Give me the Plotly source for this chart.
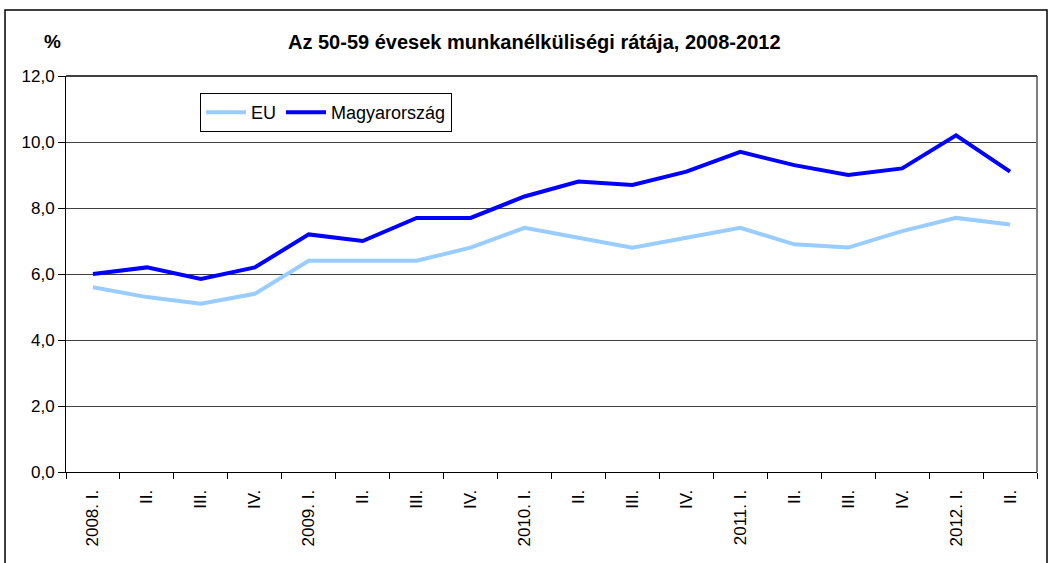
import plotly.graph_objects as go

categories = ["2008. I.", "II.", "III.", "IV.", "2009. I.", "II.", "III.", "IV.",
              "2010. I.", "II.", "III.", "IV.", "2011. I.", "II.", "III.", "IV.",
              "2012. I.", "II."]
eu = [5.6, 5.3, 5.1, 5.4, 6.4, 6.4, 6.4, 6.8, 7.4, 7.1, 6.8, 7.1, 7.4, 6.9, 6.8, 7.3, 7.7, 7.5]
hu = [6.0, 6.2, 5.85, 6.2, 7.2, 7.0, 7.7, 7.7, 8.35, 8.8, 8.7, 9.1, 9.7, 9.3, 9.0, 9.2, 10.2, 9.1]
y_ticks = [0, 2, 4, 6, 8, 10, 12]

x = list(range(len(categories)))
boundaries = [i - 0.5 for i in range(len(categories) + 1)]

fig = go.Figure()
fig.add_trace(go.Scatter(x=x, y=eu, mode="lines", name="EU",
                         line=dict(color="#99CCFF", width=4)))
fig.add_trace(go.Scatter(x=x, y=hu, mode="lines", name="Magyarország",
                         line=dict(color="#0000FF", width=4)))

fig.update_layout(
    width=1052, height=563,
    margin=dict(l=66, r=15, t=76, b=91, autoexpand=False),
    paper_bgcolor="white", plot_bgcolor="white",
    separators=",.",
    font=dict(family="Liberation Sans, Arial, sans-serif", size=17, color="black"),
    showlegend=True,
    legend=dict(orientation="h", x=0.138, y=0.957, xanchor="left", yanchor="top",
                bordercolor="black", borderwidth=1, bgcolor="white",
                font=dict(size=18), tracegroupgap=0, itemwidth=40),
    xaxis=dict(
        tickmode="array", tickvals=x, ticktext=categories,
        range=[-0.5, len(categories) - 0.5], automargin=False,
        tickangle=-90, ticks="", ticklabelstandoff=10,
        minor=dict(tickmode="array", tickvals=boundaries, ticks="outside",
                   ticklen=6, tickcolor="black", showgrid=False),
        showgrid=False, showline=True, linecolor="black",
        linewidth=1, mirror=False, zeroline=False, fixedrange=True,
        tickfont=dict(size=17),
    ),
    yaxis=dict(
        range=[0, 12], tickvals=y_ticks, tickformat=".1f", automargin=False,
        ticks="outside", ticklen=7, tickcolor="black",
        showgrid=True, gridcolor="#404040", gridwidth=1,
        showline=True, linecolor="black", linewidth=1, zeroline=False,
        tickfont=dict(size=17),
    ),
    annotations=[
        dict(text="<b>Az 50-59 évesek munkanélküliségi rátája, 2008-2012</b>",
             xref="paper", yref="paper", x=0.482, y=1.086, xanchor="center",
             yanchor="middle", showarrow=False, font=dict(size=20)),
        dict(text="<b>%</b>", xref="paper", yref="paper", x=-0.0144, y=1.086,
             xanchor="center", yanchor="middle", showarrow=False, font=dict(size=19)),
    ],
    shapes=[
        dict(type="line", xref="paper", yref="paper", x0=1, x1=1, y0=0, y1=1,
             line=dict(color="#808080", width=2)),
        dict(type="line", xref="paper", yref="paper", x0=0, x1=1, y0=1, y1=1,
             line=dict(color="#404040", width=2)),
        dict(type="rect", xref="paper", yref="paper", x0=-0.0628, x1=1.0103,
             y0=-0.35, y1=1.1667, line=dict(color="black", width=1.5),
             fillcolor="rgba(0,0,0,0)", layer="below"),
    ],
)

fig.write_html("out.html", config={"displayModeBar": False},
               post_script="document.body.style.margin='0';document.body.style.overflow='hidden';")
